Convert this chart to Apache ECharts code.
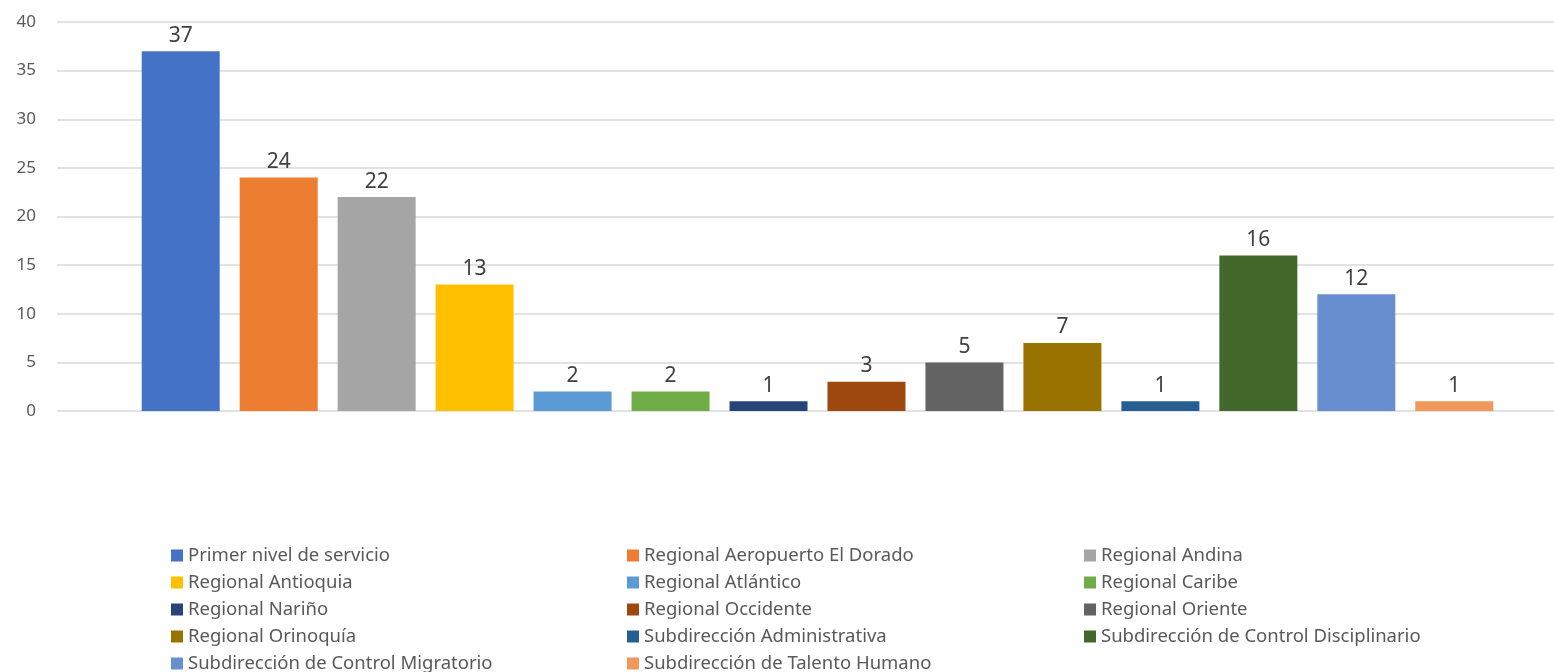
<!DOCTYPE html>
<html>
<head>
<meta charset="utf-8">
<script src="https://cdn.jsdelivr.net/npm/echarts@6/dist/echarts.min.js"></script>
<style>
  html, body { margin: 0; padding: 0; background: #fff; }
  #chart { width: 1554px; height: 672px; }
</style>
</head>
<body>
<div id="chart"></div>
<script>
  // datos del gráfico
  var seriesNames = [
    'Primer nivel de servicio', 'Regional Aeropuerto El Dorado', 'Regional Andina',
    'Regional Antioquia', 'Regional Atlántico', 'Regional Caribe',
    'Regional Nariño', 'Regional Occidente', 'Regional Oriente',
    'Regional Orinoquía', 'Subdirección Administrativa', 'Subdirección de Control Disciplinario',
    'Subdirección de Control Migratorio', 'Subdirección de Talento Humano'
  ];
  var seriesValues = [37, 24, 22, 13, 2, 2, 1, 3, 5, 7, 1, 16, 12, 1];
  var yTicks = [0, 5, 10, 15, 20, 25, 30, 35, 40];

  var colors = ['#4472C4', '#ED7D31', '#A5A5A5', '#FFC000', '#5B9BD5', '#70AD47', '#264478',
    '#9E480E', '#636363', '#997300', '#255E91', '#43682B', '#698ED0', '#F1975A'];

  var textColor = '#595959';
  var font = 'Noto Sans';

  var myChart = echarts.init(document.getElementById('chart'));

  var series = seriesNames.map(function (name, i) {
    return {
      name: name,
      type: 'bar',
      data: [seriesValues[i]],
      barWidth: 78,
      barGap: '25.6%',
      itemStyle: { color: colors[i] },
      label: {
        show: true,
        position: 'top',
        distance: 5,
        color: '#404040',
        fontSize: 21,
        fontFamily: font
      }
    };
  });

  // leyenda en tres columnas
  function legendCol(start, left) {
    var names = [];
    for (var k = start; k < seriesNames.length; k += 3) names.push(seriesNames[k]);
    return {
      data: names,
      orient: 'vertical',
      left: left,
      top: 546,
      height: 200,
      padding: 0,
      itemWidth: 12,
      itemHeight: 12,
      itemGap: 8,
      icon: 'rect',
      selectedMode: false,
      textStyle: { color: textColor, fontSize: 18.5, lineHeight: 18, fontFamily: font }
    };
  }

  myChart.setOption({
    color: colors,
    animation: false,
    // la zona de trazado sigue más allá del borde derecho
    grid: { left: 57, top: 22, width: 1521, bottom: 261, containLabel: false, outerBoundsMode: 'none' },
    legend: [legendCol(0, 171), legendCol(1, 627), legendCol(2, 1084)],
    xAxis: {
      type: 'category',
      data: [''],
      show: false
    },
    yAxis: {
      type: 'value',
      min: yTicks[0],
      max: yTicks[yTicks.length - 1],
      interval: 5,
      axisLine: { show: false },
      axisTick: { show: false },
      axisLabel: { color: textColor, fontSize: 17, fontFamily: font, margin: 21 },
      splitLine: { lineStyle: { color: '#d9d9d9', width: 1.5 } }
    },
    series: series
  });
</script>
</body>
</html>
